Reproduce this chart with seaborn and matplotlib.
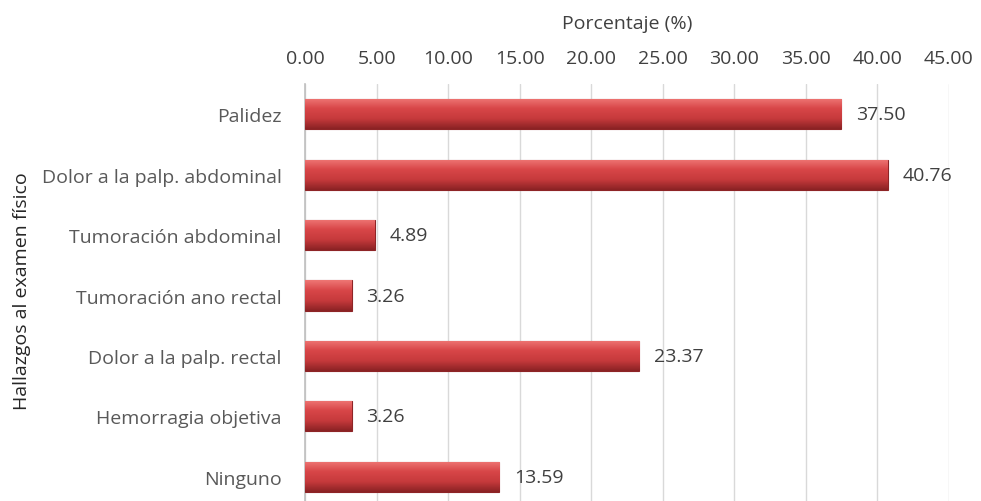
import numpy as np
import pandas as pd
import seaborn as sns
import matplotlib.pyplot as plt
from matplotlib.colors import LinearSegmentedColormap

categorias = ["Palidez", "Dolor a la palp. abdominal", "Tumoración abdominal",
              "Tumoración ano rectal", "Dolor a la palp. rectal",
              "Hemorragia objetiva", "Ninguno"]
porcentajes = [37.50, 40.76, 4.89, 3.26, 23.37, 3.26, 13.59]
xticks = [0, 5, 10, 15, 20, 25, 30, 35, 40, 45]

df = pd.DataFrame({"Hallazgo": categorias, "Porcentaje": porcentajes})

sns.set_style("white")
plt.rcParams["font.family"] = ["Open Sans", "DejaVu Sans"]
plt.rcParams["font.size"] = 14

fig = plt.figure(figsize=(9.81, 5.02), dpi=100)
ax = fig.add_axes([0.311, 0.0, 0.656, 0.8307])

sns.barplot(data=df, x="Porcentaje", y="Hallazgo", color="#C0393B",
            width=0.5, edgecolor="#8E2426", linewidth=0.8, ax=ax, zorder=3)

# gradient shading on bars
cmap = LinearSegmentedColormap.from_list("rojo", ["#EE7674", "#D84648", "#C63A3C", "#8A2224"])
grad = np.linspace(0, 1, 64).reshape(-1, 1)
for p in ax.patches:
    x0, y0 = p.get_x(), p.get_y()
    w, h = p.get_width(), p.get_height()
    im = ax.imshow(grad, cmap=cmap, aspect="auto", extent=(x0, x0 + w, y0 + h, y0),
                   zorder=3.5, origin="upper")
    im.set_clip_path(p)

for i, v in enumerate(porcentajes):
    ax.text(v + 1.0, i, f"{v:.2f}", va="center", ha="left", fontsize=14, color="#404040")

ax.set_xlim(0, 45)
ax.set_ylim(6.40, -0.5)
ax.set_xticks(xticks)
ax.set_xticklabels([f"{t:.2f}" for t in xticks])
ax.xaxis.tick_top()
ax.xaxis.set_label_position("top")
ax.tick_params(axis="both", length=0, colors="#595959", labelsize=14)
ax.tick_params(axis="x", pad=12, colors="#404040")
ax.tick_params(axis="y", pad=17)
ax.grid(axis="x", color="#D9D9D9", linewidth=1, zorder=0)
for s in ["top", "right", "bottom"]:
    ax.spines[s].set_visible(False)
ax.spines["left"].set_color("#BFBFBF")
ax.spines["left"].set_linewidth(1.2)

ax.set_xlabel("Porcentaje (%)", fontsize=14, color="#404040", labelpad=15)
ax.set_ylabel("")
fig.text(0.022, 0.42, "Hallazgos al examen físico", rotation=90, va="center",
         ha="center", fontsize=14, color="#262626")

plt.savefig("out.png", dpi=100)
